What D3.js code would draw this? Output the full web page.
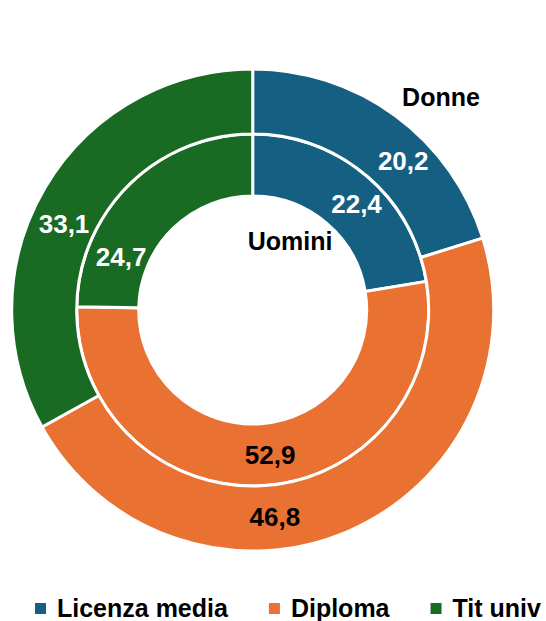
<!DOCTYPE html>
<html>
<head>
<meta charset="utf-8">
<script src="https://cdn.jsdelivr.net/npm/d3@7"></script>
<style>
  body { margin: 0; background: #fff; }
  svg { display: block; font-family: "Liberation Sans", Arial, sans-serif; }
</style>
</head>
<body>
<div id="chart"></div>
<script>
// data
const categories = ["Licenza media", "Diploma", "Tit univ"];
const uomini = [22.4, 52.9, 24.7]; // inner ring
const donne = [20.2, 46.8, 33.1];  // outer ring
const ringNames = ["Uomini", "Donne"];

const width = 546;
const height = 621;
const cx = 252.7;
const cy = 310;
const r0 = 114, r1 = 176, r2 = 241;

const color = d3.scaleOrdinal()
  .domain(categories)
  .range(["#156082", "#E97132", "#196B24"]);
const labelColor = { "Licenza media": "#fff", "Diploma": "#000", "Tit univ": "#fff" };

// small label nudges from the arc centroid (ring -> category)
const labelNudge = {
  Uomini: [[10, 4], [7, 0], [-30, 50]],
  Donne: [[27, 19], [-60, 15], [-9, 19]]
};

const svg = d3.select("#chart")
  .append("svg")
  .attr("width", width)
  .attr("height", height);

const g = svg.append("g").attr("transform", `translate(${cx},${cy})`);

const pie = d3.pie().sort(null).value((d) => d.value);

const rings = [
  { name: "Uomini", values: uomini, inner: r0, outer: r1 },
  { name: "Donne", values: donne, inner: r1, outer: r2 }
];

rings.forEach((ring) => {
  const arc = d3.arc().innerRadius(ring.inner).outerRadius(ring.outer);
  const data = pie(categories.map((c, i) => ({ cat: c, value: ring.values[i], i })));

  g.selectAll(null)
    .data(data)
    .enter()
    .append("path")
    .attr("d", arc)
    .attr("fill", (d) => color(d.data.cat))
    .attr("stroke", "#fff")
    .attr("stroke-width", 3);

  g.selectAll(null)
    .data(data)
    .enter()
    .append("text")
    .attr("transform", (d) => {
      const [x, y] = arc.centroid(d);
      const [nx, ny] = labelNudge[ring.name][d.data.i];
      return `translate(${x + nx},${y + ny})`;
    })
    .attr("text-anchor", "middle")
    .attr("dy", "0.36em")
    .attr("fill", (d) => labelColor[d.data.cat])
    .style("font-size", "26px")
    .style("font-weight", "bold")
    .text((d) => d3.format(".1f")(d.data.value).replace(".", ","));
});

// ring names
svg.append("text")
  .attr("x", 441).attr("y", 97)
  .attr("dy", "0.36em")
  .attr("text-anchor", "middle")
  .style("font-size", "25px").style("font-weight", "bold")
  .text(ringNames[1]);

svg.append("text")
  .attr("x", 290).attr("y", 241)
  .attr("dy", "0.36em")
  .attr("text-anchor", "middle")
  .style("font-size", "25px").style("font-weight", "bold")
  .text(ringNames[0]);

// legend
const legend = svg.append("g").attr("transform", "translate(35,608)");
let lx = 0;
categories.forEach((c) => {
  const item = legend.append("g").attr("transform", `translate(${lx},0)`);
  item.append("rect")
    .attr("x", 0).attr("y", -5)
    .attr("width", 11).attr("height", 11)
    .attr("fill", color(c));
  const t = item.append("text")
    .attr("x", 22).attr("dy", "0.36em")
    .style("font-size", "25px").style("font-weight", "bold")
    .text(c);
  lx += 22 + t.node().getComputedTextLength() + 41;
});
</script>
</body>
</html>
